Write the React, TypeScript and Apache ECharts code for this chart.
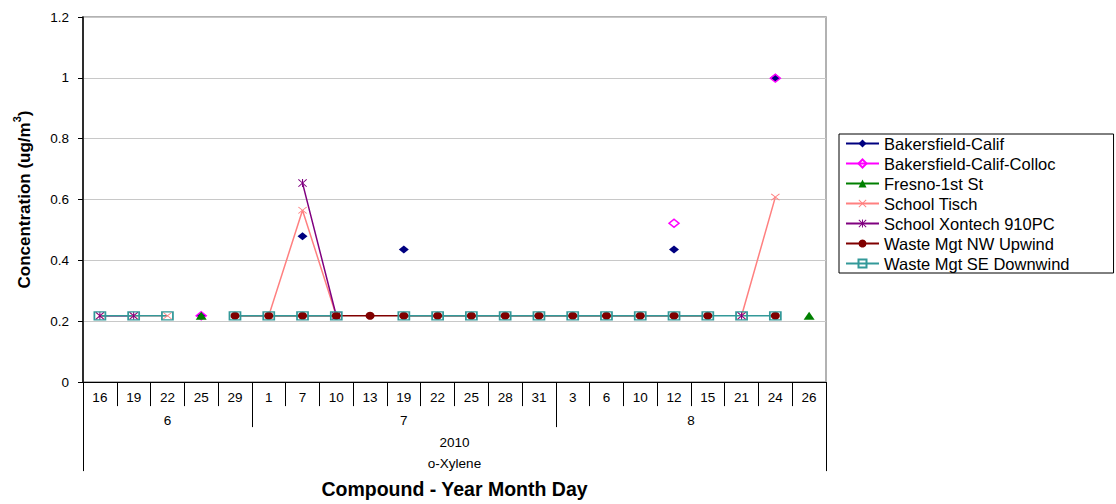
import React, { useEffect, useRef } from 'react';
import * as echarts from 'echarts';

// ---- data ----
const days = ['16', '19', '22', '25', '29', '1', '7', '10', '13', '19', '22', '25', '28', '31', '3', '6', '10', '12', '15', '21', '24', '26'];
const months = ['6', '6', '6', '6', '6', '7', '7', '7', '7', '7', '7', '7', '7', '7', '8', '8', '8', '8', '8', '8', '8', '8'];
const yearLabel = '2010';
const compoundLabel = 'o-Xylene';
const yMin = 0;
const yMax = 1.2;
const yStep = 0.2;

const B = 0.218;
const n = null;
const bakersfield = [n, n, n, B, n, n, 0.479, n, n, 0.436, n, n, n, B, n, n, n, 0.436, n, n, 1.0, n];
const bakersfieldColloc = [n, n, n, B, n, n, n, n, n, n, n, n, n, n, n, n, n, 0.522, n, n, 0.999, n];
const fresno = [n, n, n, B, n, n, n, n, n, n, n, n, n, n, n, n, n, n, n, n, n, B];
const schoolTisch = [B, B, B, n, n, B, 0.565, B, n, n, n, n, n, n, n, n, n, n, n, B, 0.608, n];
const schoolXontech = [B, B, n, n, n, n, 0.654, B, n, n, n, n, n, n, n, n, n, n, n, B, n, n];
const wasteNW = [n, n, n, n, B, B, B, B, B, B, B, B, B, B, B, B, B, B, B, n, B, n];
const wasteSE = [B, B, B, n, B, B, B, B, n, B, B, B, B, B, B, B, B, B, B, B, B, n];

const FONT = '"Liberation Sans", Arial, Helvetica, sans-serif';

const X_PATH = 'path://M0,0.8L0.8,0L5,4.2L9.2,0L10,0.8L5.8,5L10,9.2L9.2,10L5,5.8L0.8,10L0,9.2L4.2,5Z';
const STAR_PATH = X_PATH + 'M4.4,0L5.6,0L5.6,10L4.4,10Z';

function monthGroups() {
  const bounds: number[] = [];
  const centers: number[] = [];
  const labels: string[] = [];
  let start = 0;
  for (let i = 1; i <= months.length; i++) {
    if (i === months.length || months[i] !== months[i - 1]) {
      centers.push((start + i) / 2);
      labels.push(months[start]);
      if (i < months.length) bounds.push(i);
      start = i;
    }
  }
  return { bounds, centers, labels };
}

export default function App() {
  const ref = useRef<HTMLDivElement>(null);

  useEffect(() => {
    if (!ref.current) return;
    const chart = echarts.init(ref.current, null, { renderer: 'svg' });
    const groups = monthGroups();
    const N = days.length;

    const mk = (
      name: string,
      data: (number | null)[],
      color: string,
      symbol: string,
      size: number | number[],
      itemStyle: any
    ) => ({
      name,
      type: 'line',
      data,
      symbol,
      symbolSize: size,
      showAllSymbol: true,
      connectNulls: false,
      lineStyle: { color, width: 1.5 },
      itemStyle,
      emphasis: { disabled: true },
    });

    chart.setOption({
      animation: false,
      backgroundColor: '#ffffff',
      textStyle: { fontFamily: FONT },
      grid: {
        left: 83,
        top: 17,
        right: 290,
        bottom: 116,
        show: true,
        borderColor: '#999999',
        borderWidth: 1.5,
        backgroundColor: 'transparent',
      },
      legend: {
        orient: 'vertical',
        left: 839,
        top: 134,
        padding: [1, 44, 1, 6],
        itemGap: 3,
        itemWidth: 33,
        itemHeight: 10,
        borderColor: '#000000',
        borderWidth: 1,
        textStyle: { fontSize: 16.5, color: '#000000', fontFamily: FONT, lineHeight: 16 },
        data: [
          'Bakersfield-Calif',
          'Bakersfield-Calif-Colloc',
          'Fresno-1st St',
          'School Tisch',
          'School Xontech 910PC',
          'Waste Mgt NW Upwind',
          'Waste Mgt SE Downwind',
        ],
      },
      xAxis: [
        {
          type: 'category',
          data: days,
          boundaryGap: true,
          axisLine: { show: true, lineStyle: { color: '#000000', width: 1 } },
          axisTick: { show: true, interval: 0, length: 24, lineStyle: { color: '#000000', width: 1 } },
          axisLabel: { interval: 0, margin: 8, fontSize: 13.5, color: '#000000', fontFamily: FONT },
          splitLine: { show: false },
        },
        {
          type: 'value',
          min: 0,
          max: N,
          position: 'bottom',
          axisLine: { show: false },
          splitLine: { show: false },
          axisTick: {
            show: true,
            customValues: groups.bounds,
            length: 45,
            lineStyle: { color: '#000000', width: 1 },
          },
          axisLabel: {
            customValues: groups.centers,
            formatter: (v: number) => {
              const idx = groups.centers.indexOf(v);
              return idx >= 0 ? groups.labels[idx] : '';
            },
            margin: 31,
            fontSize: 13.5,
            color: '#000000',
            fontFamily: FONT,
          },
        },
        {
          type: 'value',
          min: 0,
          max: N,
          position: 'bottom',
          axisLine: { show: false },
          splitLine: { show: false },
          axisTick: {
            show: true,
            customValues: [0, N],
            length: 89,
            lineStyle: { color: '#000000', width: 1 },
          },
          axisLabel: {
            customValues: [N / 2],
            formatter: () => yearLabel + '\n' + compoundLabel,
            margin: 50,
            lineHeight: 21,
            fontSize: 13.5,
            color: '#000000',
            fontFamily: FONT,
          },
          name: 'Compound - Year Month Day',
          nameLocation: 'middle',
          nameGap: 94,
          nameTextStyle: { fontSize: 19.5, fontWeight: 'bold', color: '#000000', fontFamily: FONT },
        },
      ],
      yAxis: {
        type: 'value',
        min: yMin,
        max: yMax,
        interval: yStep,
        axisLine: { show: true, lineStyle: { color: '#000000', width: 1.5 } },
        axisTick: { show: true, length: 5, lineStyle: { color: '#000000' } },
        axisLabel: {
          margin: 14,
          fontSize: 13.5,
          color: '#000000',
          fontFamily: FONT,
          formatter: (v: number) => String(Math.round(v * 10) / 10),
        },
        splitLine: { show: true, lineStyle: { color: '#c8c8c8', width: 1 } },
        name: '{n|Concentration (ug/m}{s|3}{n|)}',
        nameLocation: 'middle',
        nameRotate: 90,
        nameGap: 50,
        nameTextStyle: {
          fontSize: 17,
          fontWeight: 'bold',
          color: '#000000',
          fontFamily: FONT,
          rich: {
            n: { fontSize: 17, fontWeight: 'bold', fontFamily: FONT, color: '#000000', lineHeight: 22, verticalAlign: 'bottom' },
            s: { fontSize: 11, fontWeight: 'bold', fontFamily: FONT, color: '#000000', lineHeight: 22, verticalAlign: 'top' },
          },
        },
      },
      series: [
        mk('Bakersfield-Calif', bakersfield, '#000080', 'diamond', [10, 8], { color: '#000080', borderWidth: 0 }),
        mk('Bakersfield-Calif-Colloc', bakersfieldColloc, '#ff00ff', 'diamond', [10, 8], {
          color: 'rgba(255,255,255,0)',
          borderColor: '#ff00ff',
          borderWidth: 1.5,
        }),
        mk('Fresno-1st St', fresno, '#008000', 'triangle', [11, 8], { color: '#008000', borderWidth: 0 }),
        mk('School Tisch', schoolTisch, '#ff8080', X_PATH, [9, 7], { color: '#ff8080', borderWidth: 0 }),
        mk('School Xontech 910PC', schoolXontech, '#800080', STAR_PATH, [9, 8], { color: '#800080', borderWidth: 0 }),
        mk('Waste Mgt NW Upwind', wasteNW, '#800000', 'circle', [9, 8], { color: '#800000', borderWidth: 0 }),
        mk('Waste Mgt SE Downwind', wasteSE, '#339999', 'rect', [11, 8], {
          color: 'rgba(255,255,255,0)',
          borderColor: '#339999',
          borderWidth: 1.5,
        }),
      ],
    });

    return () => {
      chart.dispose();
    };
  }, []);

  return (
    <div
      ref={ref}
      style={{ position: 'fixed', left: 0, top: 0, width: 1116, height: 504, background: '#ffffff' }}
    />
  );
}
